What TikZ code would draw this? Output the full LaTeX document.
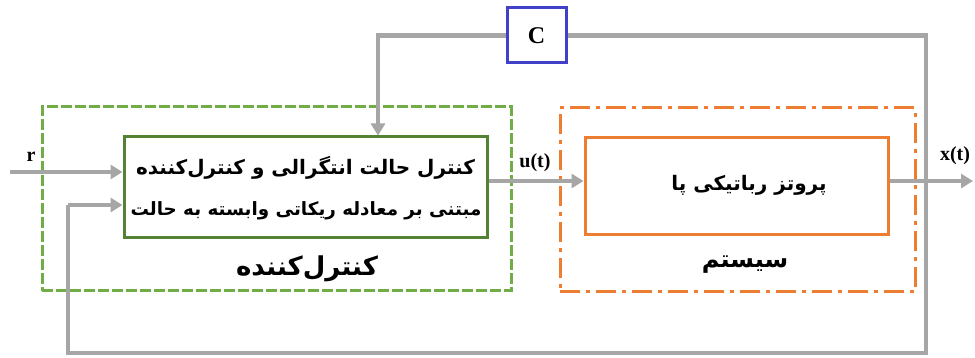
\documentclass[tikz,border=0pt]{standalone}
\usepackage{fontspec}
\setmainfont{Liberation Serif}
\newfontfamily\arabicfont[Script=Arabic]{DejaVu Sans}
\TeXXeTstate=1
\usetikzlibrary{arrows.meta}
\definecolor{lgray}{RGB}{166,166,166}
\definecolor{dgreen}{RGB}{84,130,53}
\definecolor{lgreen}{RGB}{112,173,71}
\definecolor{orng}{RGB}{237,125,49}
\definecolor{cblue}{RGB}{64,64,200}
\tikzset{
  conn/.style={draw=lgray, line width=4.5pt},
  arr/.style={conn, -{Triangle[width=14pt,length=12pt]}},
  solidbox/.style={draw, line width=3pt, fill=white, inner sep=0pt},
  outerbox/.style={draw, line width=3pt, inner sep=0pt},
  lbl/.style={font=\bfseries\fontsize{20}{22}\selectfont, inner sep=0pt},
  fa/.style={font=\arabicfont\bfseries\fontsize{20}{24}\selectfont, inner sep=0pt},
}
\begin{document}
\begin{tikzpicture}[x=1pt,y=-1pt]
\useasboundingbox (0,0) rectangle (975,358);
% outer dashed boxes
\node[outerbox, draw=lgreen, dash pattern=on 11pt off 3pt, minimum width=469pt, minimum height=184pt] (cout) at (276.5,199) {};
\node[outerbox, draw=orng, dash pattern=on 20pt off 6pt on 4pt off 6pt, minimum width=355pt, minimum height=184pt] (sout) at (737.5,200) {};
% inner boxes
\node[solidbox, draw=dgreen, minimum width=363pt, minimum height=101pt] (ctrl) at (305.5,187.5) {};
\node[fa] (t1) at (305.5,168) {\beginR کنترل حالت انتگرالی و کنترل‌کننده\endR};
\node[fa, font=\arabicfont\bfseries\fontsize{18.3}{22}\selectfont] (t2) at (306,211) {\beginR مبتنی بر معادله ریکاتی وابسته به حالت\endR};
\node[solidbox, draw=orng, minimum width=303pt, minimum height=97pt] (sys) at (736.5,186.5) {};
\node[fa] (t3) at (749,185) {\beginR پروتز رباتیکی پا\endR};
\node[font=\arabicfont\bfseries\fontsize{26}{28}\selectfont, inner sep=0pt] (clbl) at (307,269) {\beginR کنترل‌کننده\endR};
\node[font=\arabicfont\bfseries\fontsize{24}{26}\selectfont, inner sep=0pt] (slbl) at (745,265) {\beginR سیستم\endR};
% C box
\node[solidbox, draw=cblue, minimum width=59pt, minimum height=55pt, font=\bfseries\fontsize{24}{26}\selectfont] (C) at (536.5,35.5) {C};
% coordinates
\coordinate (rin) at (10,172);
\coordinate (tr) at (926,35.5);
\coordinate (br) at (926,353);
\coordinate (bl) at (68,353);
\coordinate (fbin) at (68,205);
\coordinate (tl) at (378,35.5);
\coordinate (xout) at (973,181);
% connectors
\draw[arr] (rin) -- (ctrl.west |- rin);
\draw[arr] (ctrl.east |- xout) -- (sys.west |- xout);
\draw[arr] (sys.east |- xout) -- (xout);
\draw[conn] (C.east) -- (tr) -- (br) -- (bl) -- (fbin);
\draw[arr] (fbin) -- (ctrl.west |- fbin);
\draw[arr] (C.west) -- (tl) -- (tl |- ctrl.north);
% labels
\node[lbl] (rl) at (31,157) {r};
\node[lbl] (ul) at (535,163) {u(t)};
\node[lbl] (xl) at (955,156) {x(t)};
\end{tikzpicture}
\end{document}
